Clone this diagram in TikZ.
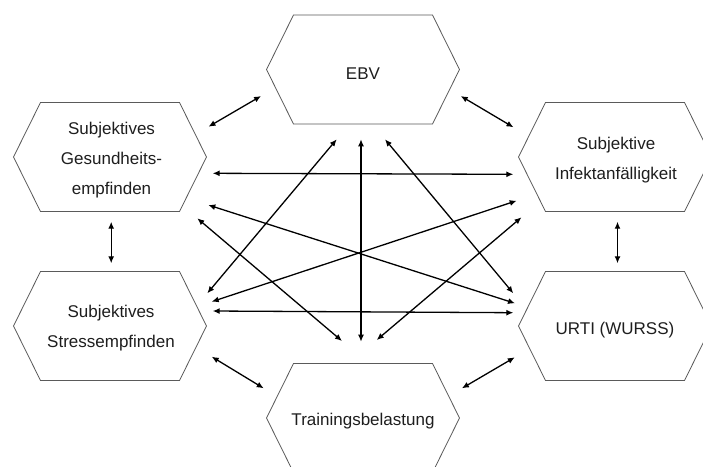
\documentclass[tikz,border=0pt]{standalone}
\usepackage{fontspec}
\setmainfont{Liberation Sans}
\usetikzlibrary{arrows.meta}
\definecolor{hexgray}{HTML}{5A5A5A}
\definecolor{txtgray}{HTML}{1E1E1E}
\tikzset{
  hexbox/.style={minimum width=193pt, minimum height=109pt, inner sep=0pt, outer sep=0pt},
  hexline/.style={draw=hexgray, line width=0.8pt, line join=miter},
  lbl/.style={font=\fontsize{17}{30}\selectfont, align=center, text=txtgray, inner sep=0pt},
  link/.style={line width=1.3pt, {Latex[length=7pt,width=6pt]}-{Latex[length=7pt,width=6pt]}},
}
\begin{document}
\begin{tikzpicture}[x=1pt,y=-1pt]
\useasboundingbox (0,0) rectangle (703,466);
\clip (0,0) rectangle (703,466);
\fill[white] (0,0) rectangle (703,466);
% hexagon frames
\node[hexbox] (ebv) at (363,69.5) {};
\node[hexbox] (ges) at (110,157) {};
\node[hexbox] (str) at (110,326) {};
\node[hexbox] (inf) at (615,157) {};
\node[hexbox] (urt) at (615,326) {};
\node[hexbox] (trn) at (363,418) {};
\foreach \n in {ebv,ges,str,inf,urt,trn}{
  \draw[hexline] (\n.west) -- ([xshift=27pt]\n.north west) -- ([xshift=-27pt]\n.north east)
    -- (\n.east) -- ([xshift=-27pt]\n.south east) -- ([xshift=27pt]\n.south west) -- cycle;
}
% labels
\node[lbl] (ebvt) at ([yshift=-4pt]ebv.center) {EBV};
\node[lbl] (gest) at ([xshift=1.5pt,yshift=-3pt]ges.center) {Subjektives\\Gesundheits-\\empfinden};
\node[lbl] (strt) at ([xshift=1pt,yshift=-2.5pt]str.center) {Subjektives\\Stressempfinden};
\node[lbl] (inft) at ([xshift=1pt,yshift=-3.5pt]inf.center) {Subjektive\\Infektanfälligkeit};
\node[lbl] (urtt) at ([yshift=-4.5pt]urt.center) {URTI (WURSS)};
\node[lbl] (trnt) at ([yshift=-3.5pt]trn.center) {Trainingsbelastung};
% connectors
\draw[link] ([shift={(102.7,16.3)}]ges.center) -- ([shift={(-101.7,17.3)}]inf.center);
\draw[link] ([shift={(98.3,48)}]ges.center) -- ([shift={(-100,-22.7)}]urt.center);
\draw[link] ([shift={(87.3,61.3)}]ges.center) -- ([shift={(-21,-77)}]trn.center);
\draw[link] ([shift={(-26.3,69.8)}]ebv.center) -- ([shift={(97.3,-32.7)}]str.center);
\draw[link] ([shift={(-2,69.8)}]ebv.center) -- ([shift={(-2,-76.3)}]trn.center);
\draw[link] ([shift={(22,69.8)}]ebv.center) -- ([shift={(-101.7,-32.7)}]urt.center);
\draw[link] ([shift={(-98.3,43.7)}]inf.center) -- ([shift={(101.7,-24.3)}]str.center);
\draw[link] ([shift={(-93.5,60.3)}]inf.center) -- ([shift={(13.7,-78)}]trn.center);
\draw[link] ([shift={(102.7,-15)}]str.center) -- ([shift={(-101.7,-13.3)}]urt.center);
\draw[link] ([shift={(-101.9,26.5)}]ebv.center) -- ([shift={(98.5,-30.3)}]ges.center);
\draw[link] ([shift={(97.7,26.5)}]ebv.center) -- ([shift={(-101.5,-29.7)}]inf.center);
\draw[link] ([shift={(1.2,64.7)}]ges.center) -- ([shift={(1.2,-62.7)}]str.center);
\draw[link] ([shift={(2.5,64.7)}]inf.center) -- ([shift={(2.5,-62.7)}]urt.center);
\draw[link] ([shift={(101.7,30.7)}]str.center) -- ([shift={(-99.3,-29.7)}]trn.center);
\draw[link] ([shift={(-100.2,31.3)}]urt.center) -- ([shift={(98.9,-29.7)}]trn.center);
\end{tikzpicture}
\end{document}
